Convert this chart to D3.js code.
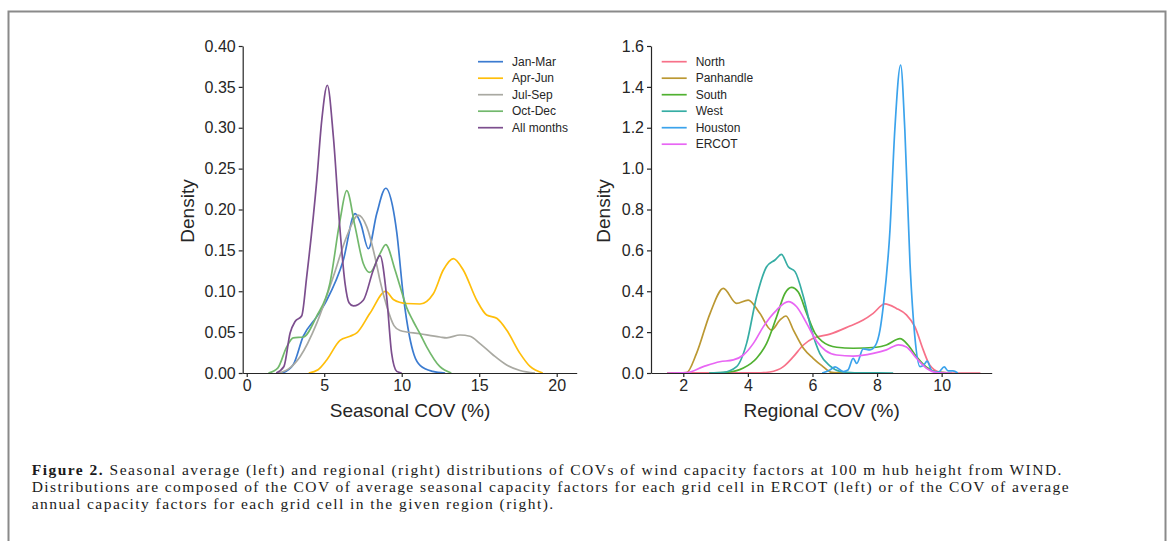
<!DOCTYPE html>
<html>
<head>
<meta charset="utf-8">
<script src="https://cdn.jsdelivr.net/npm/d3@7"></script>
<style>
  body { margin: 0; background: #fff; }
  svg { display: block; }
</style>
</head>
<body>
<div id="chart"></div>
<script>
// ---- data: [COV %, density] ----
const seasonNames = ["Jan-Mar", "Apr-Jun", "Jul-Sep", "Oct-Dec", "All months"];
const seasonColors = ["#3b7bd0", "#ffbe0a", "#a9a9a2", "#72b86c", "#7c4e8e"];

const janMar = [[2.3,0],[3.0,0.01],[3.65,0.045],[4.52,0.069],[5.16,0.089],[6.23,0.138],[6.99,0.195],[7.35,0.183],[7.85,0.152],[8.39,0.195],[8.97,0.226],[9.4,0.205],[9.68,0.172],[10.1,0.095],[10.5,0.045],[10.8,0.022],[11.2,0.009],[12.0,0.002],[12.8,0]];
const aprJun = [[4.0,0],[4.6,0.004],[5.16,0.016],[6.02,0.040],[6.67,0.045],[7.1,0.049],[7.95,0.073],[8.97,0.100],[9.46,0.09],[10.32,0.085],[11.18,0.0844],[12.04,0.097],[12.68,0.126],[13.33,0.140],[13.97,0.126],[14.84,0.089],[15.48,0.071],[16.13,0.067],[16.77,0.0526],[17.63,0.024],[18.28,0.008],[19.1,0]];
const julSep = [[2.0,0],[2.7,0.005],[3.44,0.02],[4.52,0.061],[5.59,0.118],[6.45,0.167],[7.2,0.193],[7.74,0.179],[8.39,0.132],[8.6,0.113],[9.03,0.082],[9.5,0.058],[9.89,0.052],[11.18,0.048],[12.47,0.044],[12.9,0.043],[13.76,0.0465],[14.4,0.045],[15.05,0.036],[15.9,0.022],[16.77,0.0098],[17.63,0.003],[18.6,0]];
const octDec = [[1.4,0],[2.0,0.006],[2.58,0.032],[3.0,0.043],[3.65,0.044],[4.5,0.069],[5.37,0.11],[6.02,0.187],[6.45,0.223],[6.99,0.179],[7.52,0.134],[7.95,0.123],[8.6,0.146],[8.97,0.157],[9.57,0.126],[9.89,0.106],[10.32,0.08],[10.75,0.063],[11.18,0.048],[11.61,0.032],[12.45,0.008],[13.2,0]];
const allMonths = [[1.9,0],[2.4,0.008],[2.8,0.049],[3.12,0.063],[3.55,0.07],[3.87,0.118],[4.52,0.236],[4.84,0.309],[5.2,0.352],[5.59,0.289],[6.02,0.175],[6.34,0.11],[6.6,0.086],[6.88,0.082],[7.52,0.089],[8.17,0.126],[8.6,0.1435],[9.03,0.093],[9.35,0.024],[9.68,0.002],[10.0,0]];

const regionNames = ["North", "Panhandle", "South", "West", "Houston", "ERCOT"];
const regionColors = ["#f77189", "#bb9832", "#50b131", "#36ada4", "#3ba3ec", "#e866f4"];

const north = [[1.5,0],[4.3,0.001],[4.68,0.005],[5.1,0.031],[5.41,0.08],[5.72,0.137],[6.02,0.17],[6.54,0.19],[7.16,0.23],[7.57,0.259],[7.88,0.292],[8.24,0.338],[8.6,0.316],[8.91,0.284],[9.17,0.227],[9.43,0.113],[9.63,0.039],[9.94,0.004],[10.3,0],[11.2,0]];
const panhandle = [[1.5,0],[2.1,0.002],[2.41,0.096],[2.83,0.292],[3.24,0.414],[3.65,0.341],[4.01,0.357],[4.37,0.292],[4.73,0.21],[4.99,0.259],[5.18,0.279],[5.41,0.21],[5.72,0.121],[6.02,0.072],[6.3,0.035],[6.6,0.003],[7.0,0]];
const south = [[2.8,0],[3.34,0.003],[3.86,0.024],[4.27,0.072],[4.58,0.145],[4.89,0.275],[5.15,0.39],[5.35,0.419],[5.56,0.396],[5.82,0.292],[6.08,0.194],[6.3,0.155],[6.75,0.126],[7.26,0.121],[7.98,0.126],[8.29,0.137],[8.71,0.168],[8.96,0.137],[9.22,0.08],[9.53,0.028],[9.84,0.005],[10.3,0]];
const west = [[2.8,0],[3.24,0.003],[3.65,0.031],[3.96,0.145],[4.27,0.373],[4.58,0.52],[4.84,0.553],[5.04,0.58],[5.25,0.52],[5.46,0.496],[5.72,0.373],[5.97,0.21],[6.23,0.095],[6.54,0.035],[6.85,0.008],[7.3,0.001],[8.5,0]];
const houston = [[6.3,0],[6.54,0.015],[6.7,0.03],[6.95,0.007],[7.1,0.015],[7.26,0.072],[7.37,0.047],[7.57,0.118],[7.78,0.113],[7.95,0.135],[8.09,0.21],[8.19,0.324],[8.4,0.70],[8.55,1.19],[8.73,1.507],[8.86,1.19],[9.02,0.537],[9.17,0.178],[9.33,0.031],[9.45,0.04],[9.55,0.058],[9.7,0.01],[9.9,0.005],[10.08,0.03],[10.2,0.01],[10.35,0.01],[10.5,0]];
const ercot = [[1.5,0],[2.1,0.002],[2.62,0.031],[3.13,0.055],[3.55,0.064],[3.86,0.088],[4.17,0.145],[4.48,0.227],[4.89,0.308],[5.25,0.349],[5.51,0.324],[5.82,0.243],[6.13,0.155],[6.4,0.11],[6.75,0.088],[7.26,0.083],[7.88,0.096],[8.29,0.113],[8.66,0.138],[8.91,0.127],[9.22,0.072],[9.53,0.023],[9.84,0.002],[10.3,0]];

const seasonTicksX = [0, 5, 10, 15, 20];
const seasonTicksY = [0, 0.05, 0.10, 0.15, 0.20, 0.25, 0.30, 0.35, 0.40];
const regionTicksX = [2, 4, 6, 8, 10];
const regionTicksY = [0, 0.2, 0.4, 0.6, 0.8, 1.0, 1.2, 1.4, 1.6];

const captionLines = [
  "Seasonal average (left) and regional (right) distributions of COVs of wind capacity factors at 100 m hub height from WIND.",
  "Distributions are composed of the COV of average seasonal capacity factors for each grid cell in ERCOT (left) or of the COV of average",
  "annual capacity factors for each grid cell in the given region (right)."
];

// ---- drawing ----
const W = 1171, H = 541;
const svg = d3.select("#chart").append("svg")
  .attr("width", W).attr("height", H);

svg.append("rect")
  .attr("x", 8.5).attr("y", 11.5)
  .attr("width", 1157).attr("height", 600)
  .attr("fill", "none").attr("stroke", "#8a8a8a").attr("stroke-width", 2);

const axisFont = "'Liberation Sans', Arial, sans-serif";
const ink = "#262626";

function panel(opts) {
  const x = d3.scaleLinear().domain(opts.xDomain).range(opts.xRange);
  const y = d3.scaleLinear().domain(opts.yDomain).range([373, 46]);
  const g = svg.append("g");

  const line = d3.line()
    .x(d => x(d[0])).y(d => y(d[1]))
    .curve(d3.curveMonotoneX);

  opts.series.forEach((s, i) => {
    g.append("path")
      .attr("d", line(s))
      .attr("fill", "none")
      .attr("stroke", opts.colors[i])
      .attr("stroke-width", 1.7)
      .attr("stroke-linejoin", "round");
  });

  const xAxis = g.append("g")
    .attr("transform", "translate(0,373)")
    .call(d3.axisBottom(x).tickValues(opts.xTicks).tickSize(4).tickSizeOuter(0).tickFormat(d3.format("d")));
  const yAxis = g.append("g")
    .attr("transform", `translate(${opts.xRange[0]},0)`)
    .call(d3.axisLeft(y).tickValues(opts.yTicks).tickSize(4).tickSizeOuter(0).tickFormat(d3.format(opts.yFmt)));

  [xAxis, yAxis].forEach(a => {
    a.selectAll("path, line").attr("stroke", ink).attr("stroke-width", 1.2);
    a.selectAll("text").attr("font-family", axisFont).attr("font-size", 16).attr("fill", ink);
  });

  g.append("text")
    .attr("x", opts.xLabelX).attr("y", 417)
    .attr("text-anchor", "middle")
    .attr("font-family", axisFont).attr("font-size", 19).attr("fill", ink)
    .text(opts.xLabel);

  g.append("text")
    .attr("transform", `translate(${opts.yLabelX},211) rotate(-90)`)
    .attr("text-anchor", "middle")
    .attr("font-family", axisFont).attr("font-size", 19).attr("fill", ink)
    .text("Density");

  const leg = g.append("g");
  opts.names.forEach((n, i) => {
    const ly = 61.7 + i * 16.5;
    leg.append("line")
      .attr("x1", opts.legX).attr("x2", opts.legX + 25)
      .attr("y1", ly).attr("y2", ly)
      .attr("stroke", opts.colors[i]).attr("stroke-width", 1.7);
    leg.append("text")
      .attr("x", opts.legX + 34).attr("y", ly + 4.2)
      .attr("font-family", axisFont).attr("font-size", 12).attr("fill", ink)
      .text(n);
  });
}

panel({
  xDomain: [-0.26, 21.29], xRange: [242.7, 576.7],
  yDomain: [0, 0.40], yFmt: ".2f",
  xTicks: seasonTicksX, yTicks: seasonTicksY,
  series: [janMar, aprJun, julSep, octDec, allMonths],
  colors: seasonColors, names: seasonNames,
  xLabel: "Seasonal COV (%)", xLabelX: 410, yLabelX: 194,
  legX: 478
});

panel({
  xDomain: [1.0, 11.55], xRange: [651, 991.7],
  yDomain: [0, 1.6], yFmt: ".1f",
  xTicks: regionTicksX, yTicks: regionTicksY,
  series: [north, panhandle, south, west, houston, ercot],
  colors: regionColors, names: regionNames,
  xLabel: "Regional COV (%)", xLabelX: 821.7, yLabelX: 610,
  legX: 661.7
});

// caption: first two lines stretched to the same right edge as the original
const capFont = "'Liberation Serif', 'Times New Roman', serif";
const capX = 31.7;
const capTargets = [1063, 1070];
const capNodes = captionLines.map((t, i) => {
  const txt = svg.append("text")
    .attr("x", capX).attr("y", 475 + i * 17)
    .attr("font-family", capFont).attr("font-size", 15.5).attr("fill", "#1a1a1a");
  if (i === 0) {
    txt.append("tspan").attr("font-weight", "bold").text("Figure 2.");
    txt.append("tspan").text(" " + t);
  } else {
    txt.text(t);
  }
  return txt;
});
let lsSum = 0;
capTargets.forEach((target, i) => {
  const txt = capNodes[i];
  const natural = txt.node().getComputedTextLength();
  const chars = (i === 0 ? "Figure 2. " : "").length + captionLines[i].length;
  const ls = (target - capX - natural) / chars;
  lsSum += ls;
  txt.attr("letter-spacing", ls);
});
capNodes[2].attr("letter-spacing", lsSum / 2);
</script>
</body>
</html>
